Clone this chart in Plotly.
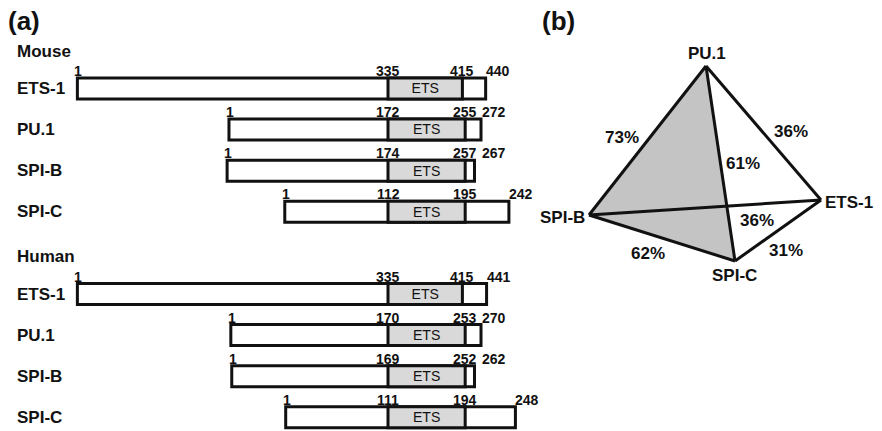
import plotly.graph_objects as go

# ---------------- Panel (a) data: protein domain maps ----------------
species = ["Mouse", "Human"]
proteins = ["ETS-1", "PU.1", "SPI-B", "SPI-C"]
mouse_length = [440, 272, 267, 242]
mouse_ets_start = [335, 172, 174, 112]
mouse_ets_end = [415, 255, 257, 195]
human_length = [441, 270, 262, 248]
human_ets_start = [335, 170, 169, 111]
human_ets_end = [415, 253, 252, 194]
domain_name = "ETS"

# ---------------- Panel (b) data: sequence identity tetrahedron ----------------
nodes = ["PU.1", "ETS-1", "SPI-B", "SPI-C"]
edge_pairs = [("PU.1", "SPI-B"), ("PU.1", "ETS-1"), ("PU.1", "SPI-C"),
              ("SPI-B", "ETS-1"), ("SPI-B", "SPI-C"), ("SPI-C", "ETS-1")]
identity_pct = [73, 36, 61, 36, 62, 31]
shaded_face = ["PU.1", "SPI-B", "SPI-C"]

# ---------------- layout / style constants ----------------
W, H = 882, 431
FONT = "Liberation Sans, Arial, Helvetica, sans-serif"
INK = "#111111"
PX_PER_AA = 0.93
ETS_ANCHOR_PX = 388.0
ROW_PX0, ROW_STEP = 88.5, 41.1
BAR_W = 0.51
GRAY_DOMAIN = "#d9d9d9"
GRAY_FACE = "#c4c4c4"
NUM_SIZE = 14
NUM_HALF_W = 3 * 0.556 * NUM_SIZE / 2   # half width of a 3-digit label, px

# diagram geometry of panel (b) in canvas pixels
VERTEX_PX = {"PU.1": (706, 66), "ETS-1": (821, 200), "SPI-B": (589, 215), "SPI-C": (735, 261)}
NODE_LABEL_PX = {"PU.1": (707, 53, "center"), "ETS-1": (823, 202, "left"),
                 "SPI-B": (587, 217, "right"), "SPI-C": (734, 275, "center")}
PCT_LABEL_PX = [(622, 137), (791, 131), (743, 163), (757, 220), (648, 253), (786, 250)]

fig = go.Figure()
ann = []

species_rows = {"Mouse": 0, "Human": 5}
species_data = {
    "Mouse": (mouse_length, mouse_ets_start, mouse_ets_end),
    "Human": (human_length, human_ets_start, human_ets_end),
}

for sp in species:
    lengths, starts, ends = species_data[sp]
    r0 = species_rows[sp]
    # species header
    ann.append(dict(x=15, y=r0 - 1, xref="x2", yref="y", text=f"<b>{sp}</b>",
                    xanchor="left", yanchor="middle", yshift=-4,
                    font=dict(size=17, color=INK, family=FONT)))
    for i, p in enumerate(proteins):
        row = r0 + i
        L, s, e = lengths[i], starts[i], ends[i]
        # full protein (white)
        fig.add_trace(go.Bar(orientation="h", y=[row], x=[L - 1], base=[1 - s],
                             width=BAR_W, marker=dict(color="white",
                             line=dict(color=INK, width=3)),
                             hoverinfo="skip", xaxis="x", yaxis="y"))
        # ETS domain (gray)
        fig.add_trace(go.Bar(orientation="h", y=[row], x=[e - s], base=[0],
                             width=BAR_W, marker=dict(color=GRAY_DOMAIN,
                             line=dict(color=INK, width=3)),
                             text=[domain_name], textposition="inside",
                             insidetextanchor="middle", textangle=0,
                             textfont=dict(size=16, color=INK, family=FONT),
                             hoverinfo="skip", xaxis="x", yaxis="y"))
        # row label
        ann.append(dict(x=15, y=row, xref="x2", yref="y", text=f"<b>{p}</b>",
                        xanchor="left", yanchor="middle", yshift=0,
                        font=dict(size=17, color=INK, family=FONT)))
        # position numbers; push the end label clear of the domain-end label
        c_gap_px = (L - e) * PX_PER_AA
        end_shift = max(-2.0, NUM_HALF_W + 3 - c_gap_px)
        top = row - BAR_W / 2
        for pos, anchor, xs in [(1, "center", 1), (s, "center", 0),
                                (e, "center", 0), (L, "left", end_shift)]:
            ann.append(dict(x=pos - s, y=top, xref="x", yref="y", text=f"<b>{pos}</b>",
                            xanchor=anchor, yanchor="bottom", xshift=xs, yshift=-3,
                            font=dict(size=NUM_SIZE, color=INK, family=FONT)))

# ---------------- Panel (b) ----------------
fx = [VERTEX_PX[n][0] for n in shaded_face] + [VERTEX_PX[shaded_face[0]][0]]
fy = [VERTEX_PX[n][1] for n in shaded_face] + [VERTEX_PX[shaded_face[0]][1]]
fig.add_trace(go.Scatter(x=fx, y=fy, mode="lines", fill="toself", fillcolor=GRAY_FACE,
                         line=dict(width=0, color=GRAY_FACE), hoverinfo="skip",
                         xaxis="x2", yaxis="y2"))
ex, ey = [], []
for a, b in edge_pairs:
    ex += [VERTEX_PX[a][0], VERTEX_PX[b][0], None]
    ey += [VERTEX_PX[a][1], VERTEX_PX[b][1], None]
fig.add_trace(go.Scatter(x=ex, y=ey, mode="lines", line=dict(color=INK, width=3),
                         hoverinfo="skip", xaxis="x2", yaxis="y2"))

for n in nodes:
    x, y, anc = NODE_LABEL_PX[n]
    ann.append(dict(x=x, y=y, xref="x2", yref="y2", text=f"<b>{n}</b>", xanchor=anc,
                    yanchor="middle", font=dict(size=17, color=INK, family=FONT)))
for (x, y), v in zip(PCT_LABEL_PX, identity_pct):
    ann.append(dict(x=x, y=y, xref="x2", yref="y2", text=f"<b>{v}%</b>", xanchor="center",
                    yanchor="middle", font=dict(size=17, color=INK, family=FONT)))

# panel letters
ann.append(dict(x=6, y=21, xref="x2", yref="y2", text="<b>(a)</b>", xanchor="left",
                yanchor="middle", font=dict(size=26, color=INK, family=FONT)))
ann.append(dict(x=540, y=21, xref="x2", yref="y2", text="<b>(b)</b>", xanchor="left",
                yanchor="middle", font=dict(size=26, color=INK, family=FONT)))

for a in ann:
    a["showarrow"] = False

fig.update_layout(
    width=W, height=H, margin=dict(l=0, r=0, t=0, b=0),
    paper_bgcolor="white", plot_bgcolor="white", showlegend=False,
    barmode="overlay", annotations=ann, uniformtext=dict(mode=False),
    xaxis=dict(domain=[0, 1], range=[-ETS_ANCHOR_PX / PX_PER_AA, (W - ETS_ANCHOR_PX) / PX_PER_AA],
               visible=False, fixedrange=True),
    yaxis=dict(domain=[0, 1], range=[(H - ROW_PX0) / ROW_STEP, -ROW_PX0 / ROW_STEP],
               visible=False, fixedrange=True),
    xaxis2=dict(domain=[0, 1], range=[0, W], overlaying="x", visible=False, fixedrange=True),
    yaxis2=dict(domain=[0, 1], range=[H, 0], overlaying="y", visible=False, fixedrange=True),
)

fig.write_html("out.html", config={"displayModeBar": False},
               post_script="document.body.style.margin='0';document.body.style.overflow='hidden';")
